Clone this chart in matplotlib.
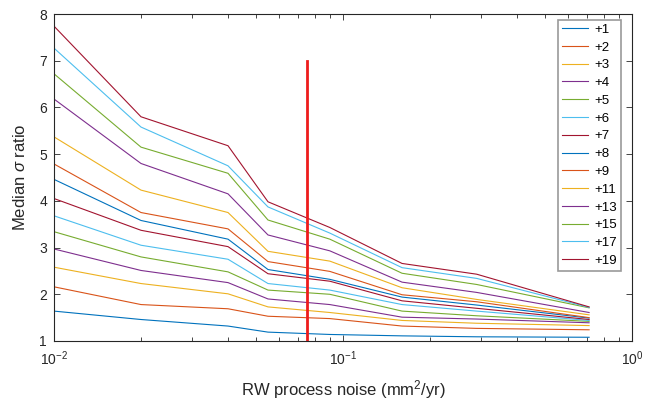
import matplotlib
matplotlib.use("Agg")
import matplotlib.pyplot as plt
from matplotlib.ticker import LogLocator, NullFormatter

plt.rcParams["font.family"] = ["Liberation Sans", "DejaVu Sans"]
plt.rcParams["mathtext.fontset"] = "custom"
plt.rcParams["mathtext.rm"] = "Liberation Sans"
plt.rcParams["mathtext.it"] = "Liberation Sans:italic"

# process noise levels (mm^2/yr)
noise = [0.01, 0.02, 0.04, 0.055, 0.09, 0.16, 0.29, 0.71]

offsets = ["+1", "+2", "+3", "+4", "+5", "+6", "+7", "+8", "+9",
           "+11", "+13", "+15", "+17", "+19"]

# median sigma ratio per offset, one row per curve
ratio_1 = [1.64, 1.46, 1.32, 1.19, 1.14, 1.11, 1.09, 1.08]
ratio_2 = [2.16, 1.78, 1.69, 1.53, 1.48, 1.32, 1.27, 1.24]
ratio_3 = [2.58, 2.23, 2.01, 1.73, 1.61, 1.44, 1.38, 1.33]
ratio_4 = [2.97, 2.51, 2.25, 1.90, 1.78, 1.51, 1.47, 1.39]
ratio_5 = [3.34, 2.80, 2.48, 2.09, 2.00, 1.64, 1.54, 1.42]
ratio_6 = [3.68, 3.05, 2.75, 2.23, 2.09, 1.78, 1.64, 1.44]
ratio_7 = [4.05, 3.37, 3.02, 2.44, 2.28, 1.86, 1.70, 1.46]
ratio_8 = [4.46, 3.58, 3.18, 2.53, 2.32, 1.94, 1.77, 1.49]
ratio_9 = [4.79, 3.75, 3.40, 2.70, 2.49, 1.99, 1.84, 1.50]
ratio_11 = [5.37, 4.23, 3.75, 2.92, 2.71, 2.14, 1.89, 1.56]
ratio_13 = [6.18, 4.80, 4.15, 3.27, 2.93, 2.26, 2.04, 1.61]
ratio_15 = [6.72, 5.15, 4.59, 3.59, 3.18, 2.45, 2.21, 1.71]
ratio_17 = [7.27, 5.58, 4.75, 3.87, 3.31, 2.57, 2.34, 1.72]
ratio_19 = [7.74, 5.80, 5.18, 3.98, 3.43, 2.66, 2.43, 1.73]

ratios = [ratio_1, ratio_2, ratio_3, ratio_4, ratio_5, ratio_6, ratio_7,
          ratio_8, ratio_9, ratio_11, ratio_13, ratio_15, ratio_17, ratio_19]

# chosen noise level marker
marker_x = 0.075
marker_y = [1, 7]

colors = ["#0072BD", "#D95319", "#EDB120", "#7E2F8E",
          "#77AC30", "#4DBEEE", "#A2142F"]
dark = "#262626"

fig = plt.figure(figsize=(6.45, 4.0), dpi=100)
ax = fig.add_axes([0.0837, 0.1475, 0.8963, 0.8175])

for i, (lab, r) in enumerate(zip(offsets, ratios)):
    ax.plot(noise, r, color=colors[i % len(colors)], lw=0.8, label=lab)

ax.plot([marker_x, marker_x], marker_y, color="#EE1C1C", lw=2)

ax.set_xscale("log")
ax.set_xlim(0.01, 1)
ax.set_ylim(1, 8)
ax.xaxis.set_minor_locator(LogLocator(base=10, subs=range(2, 10)))
ax.xaxis.set_minor_formatter(NullFormatter())

ax.tick_params(which="both", direction="in", top=True, right=True,
               colors=dark, labelsize=10, width=0.6)
ax.tick_params(which="major", length=4.5)
ax.tick_params(which="minor", length=3)
ax.tick_params(axis="x", which="major", pad=6)
ax.tick_params(axis="y", which="major", pad=5)
for s in ax.spines.values():
    s.set_color(dark)
    s.set_linewidth(0.8)

ax.set_xlabel("RW process noise (mm$^2$/yr)", fontsize=12, color=dark,
              labelpad=7)
ax.set_ylabel(r"Median $\sigma$ ratio", fontsize=12, color=dark, labelpad=8)

leg = ax.legend(loc="upper right", bbox_to_anchor=(0.981, 0.983),
                borderaxespad=0, fontsize=9.5, handlelength=2.0,
                handletextpad=0.5, labelspacing=0.42, borderpad=0.3,
                fancybox=False, framealpha=1)
leg.get_frame().set_edgecolor("#9a9a9a")
leg.get_frame().set_linewidth(1.2)

fig.savefig("out.png", dpi=100)
